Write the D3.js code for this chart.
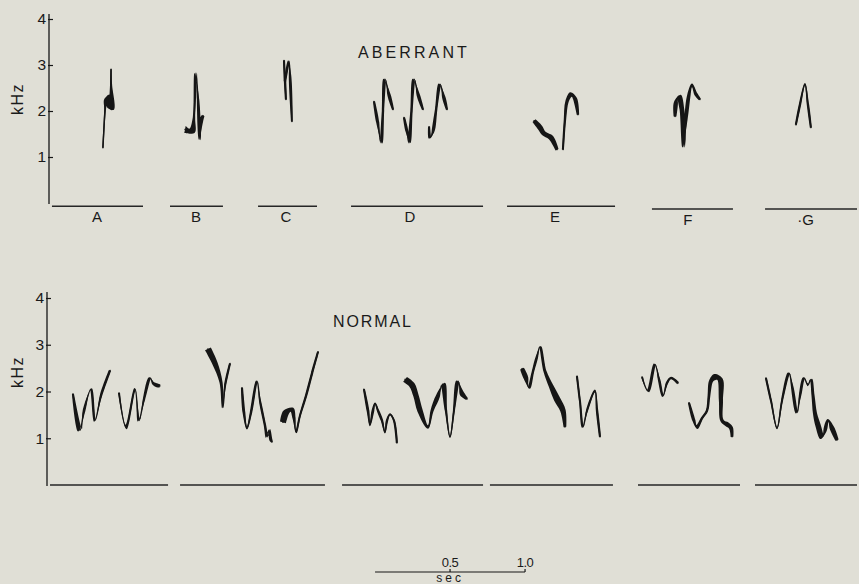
<!DOCTYPE html>
<html><head><meta charset="utf-8">
<script src="https://cdn.jsdelivr.net/npm/d3@7"></script>
<style>
html,body{margin:0;padding:0;background:#e0dfd6;}
svg{display:block;}
text{font-family:"Liberation Sans",Arial,Helvetica,sans-serif;fill:#1a1a1a;}
</style></head>
<body>
<script>
// ---------- DATA ----------
const freqTicks = [1, 2, 3, 4];
const panelTitles = ["ABERRANT", "NORMAL"];

// segment extents (sec) and labels
const aberrantSegments = [[0.013,0.62],[0.80,1.153],[1.387,1.78],[2.007,2.887],[3.047,3.767],[4.013,4.553],[4.767,5.38]];
const aberrantSegmentDrop = [0.07,0.07,0.07,0.07,0.07,0.13,0.13];
const aberrantLabels = ["A","B","C","D","E","F","·G"];
const aberrantLabelTime = [0.313,0.973,1.573,2.40,3.367,4.253,5.037];
const normalSegments = [[0.0,0.787],[0.867,1.833],[1.947,2.887],[2.933,3.753],[3.92,4.60],[4.70,5.38]];

// scale bar (sec)
const scaleBarStart = 2.167;
const scaleTicks = [0.5, 1.0];
const scaleTickLabels = ["0.5", "1.0"];

// traces: [time (sec), frequency (kHz), band thickness (kHz)]
const aberrantA = [[0.353,1.20,0],[0.367,2.03,0.01],[0.373,2.25,0.06],[0.393,2.34,0.1],[0.40,2.08,0.12],[0.413,2.03,0.08],[0.407,2.58,0.02],[0.407,2.91,0]];
const aberrantB = [[0.90,1.60,0.18],[0.947,1.57,0.16],[0.96,1.86,0.03],[0.973,2.82,0.05],[0.987,2.25,0.03],[1.0,1.38,0.02],[1.007,1.77,0.08],[1.02,1.90,0.05]];
const aberrantC1 = [[1.56,3.10,0.02],[1.567,2.64,0.03],[1.573,2.25,0.02]];
const aberrantC2 = [[1.567,2.64,0.03],[1.593,3.08,0.03],[1.60,2.78,0.03],[1.613,1.77,0.01]];
const aberrantD1 = [[2.16,2.21,0.02],[2.185,1.75,0.05],[2.207,1.31,0.05],[2.22,2.0,0.03],[2.233,2.69,0.05],[2.26,2.35,0.06],[2.287,2.03,0.02]];
const aberrantD2 = [[2.36,1.86,0.02],[2.38,1.55,0.04],[2.393,1.31,0.05],[2.41,2.0,0.03],[2.427,2.69,0.05],[2.455,2.35,0.06],[2.487,2.03,0.02]];
const aberrantD3 = [[2.527,1.66,0.02],[2.533,1.42,0.05],[2.553,1.55,0.04],[2.575,2.05,0.03],[2.60,2.58,0.05],[2.625,2.3,0.06],[2.647,2.03,0.02]];
const aberrantE1 = [[3.227,1.79,0.08],[3.267,1.64,0.12],[3.293,1.51,0.1],[3.34,1.42,0.12],[3.38,1.16,0.06]];
const aberrantE2 = [[3.42,1.16,0.02],[3.433,1.81,0.03],[3.447,2.21,0.06],[3.473,2.36,0.1],[3.50,2.27,0.08],[3.52,1.92,0.03]];
const aberrantF = [[4.167,1.88,0.04],[4.173,2.19,0.08],[4.193,2.32,0.1],[4.213,2.03,0.1],[4.227,1.22,0.06],[4.24,1.81,0.05],[4.26,2.36,0.06],[4.28,2.56,0.07],[4.307,2.36,0.06],[4.333,2.25,0.03]];
const aberrantG = [[4.973,1.70,0.02],[5.0,2.14,0.03],[5.033,2.58,0.04],[5.053,2.14,0.03],[5.073,1.64,0.02]];

const normal1a = [[0.153,1.95,0.02],[0.20,1.17,0.1],[0.227,1.59,0.04],[0.273,2.05,0.04],[0.30,1.38,0.05],[0.34,1.91,0.03],[0.40,2.45,0.03]];
const normal1b = [[0.46,1.97,0.02],[0.507,1.24,0.1],[0.567,2.05,0.04],[0.593,1.38,0.05],[0.627,1.84,0.03],[0.667,2.29,0.03],[0.687,2.18,0.04],[0.707,2.14,0.07],[0.733,2.12,0.06]];
const normal2a = [[1.053,2.91,0.15],[1.10,2.60,0.12],[1.14,2.20,0.05],[1.153,1.66,0.02],[1.167,2.12,0.02],[1.20,2.60,0.02]];
const normal2b = [[1.28,2.08,0.02],[1.293,1.55,0.04],[1.313,1.22,0.05],[1.34,1.55,0.03],[1.38,2.22,0.02],[1.40,1.80,0.02],[1.433,1.28,0.03],[1.447,1.03,0.05],[1.46,1.17,0.06],[1.473,0.96,0.05],[1.48,0.92,0.02]];
const normal2c = [[1.553,1.34,0.14],[1.573,1.55,0.15],[1.613,1.61,0.1],[1.627,1.43,0.05],[1.64,1.13,0.03],[1.667,1.49,0.02],[1.707,1.91,0.03],[1.747,2.39,0.03],[1.787,2.85,0.02]];
const normal3a = [[2.093,2.05,0.02],[2.12,1.59,0.04],[2.133,1.30,0.08],[2.153,1.59,0.04],[2.167,1.74,0.03],[2.187,1.59,0.03],[2.213,1.38,0.03],[2.233,1.13,0.04],[2.247,1.38,0.03],[2.267,1.51,0.03],[2.293,1.38,0.02],[2.313,0.90,0.02]];
const normal3b = [[2.367,2.26,0.14],[2.413,2.14,0.14],[2.44,1.91,0.12],[2.467,1.59,0.12],[2.52,1.24,0.06],[2.547,1.59,0.05],[2.587,1.91,0.08],[2.62,2.16,0.1],[2.64,1.59,0.03],[2.667,1.03,0.02],[2.693,1.59,0.02],[2.72,2.22,0.06],[2.747,1.95,0.1],[2.78,1.84,0.03]];
const normal4a = [[3.147,2.49,0.08],[3.173,2.29,0.1],[3.193,2.08,0.04],[3.22,2.43,0.03],[3.247,2.75,0.03],[3.267,2.96,0.02],[3.30,2.43,0.05],[3.34,2.12,0.1],[3.38,1.84,0.15],[3.42,1.59,0.12],[3.433,1.24,0.04]];
const normal4b = [[3.513,2.33,0.02],[3.533,1.80,0.02],[3.553,1.24,0.02],[3.58,1.59,0.02],[3.633,2.01,0.05],[3.647,1.59,0.03],[3.667,1.03,0.02]];
const normal5a = [[3.947,2.31,0.02],[3.987,2.01,0.05],[4.033,2.58,0.04],[4.06,2.26,0.03],[4.087,1.91,0.04],[4.113,2.18,0.03],[4.14,2.29,0.03],[4.187,2.18,0.04]];
const normal5b = [[4.26,1.76,0.02],[4.293,1.38,0.05],[4.313,1.24,0.08],[4.347,1.43,0.03],[4.38,1.59,0.03],[4.393,1.91,0.04],[4.407,2.22,0.08],[4.433,2.31,0.14],[4.467,2.26,0.12],[4.473,1.80,0.08],[4.48,1.38,0.06],[4.513,1.30,0.1],[4.54,1.22,0.08],[4.547,1.03,0.04]];
const normal6 = [[4.773,2.29,0.02],[4.807,1.80,0.02],[4.847,1.22,0.03],[4.88,1.80,0.02],[4.927,2.39,0.03],[4.947,2.12,0.03],[4.98,1.55,0.04],[5.0,1.91,0.03],[5.027,2.29,0.03],[5.053,2.14,0.04],[5.073,2.26,0.03],[5.087,1.91,0.05],[5.10,1.53,0.08],[5.12,1.28,0.12],[5.147,1.03,0.12],[5.167,1.17,0.06],[5.187,1.38,0.05],[5.213,1.22,0.1],[5.247,0.96,0.06]];

const aberrantTraces = [aberrantA, aberrantB, aberrantC1, aberrantC2, aberrantD1, aberrantD2, aberrantD3, aberrantE1, aberrantE2, aberrantF, aberrantG];
const normalTraces = [normal1a, normal1b, normal2a, normal2b, normal2c, normal3a, normal3b, normal4a, normal4b, normal5a, normal5b, normal6];

// ---------- DRAW ----------
const W = 859, H = 584;
const ink = "#161616";
const svg = d3.select("body").append("svg").attr("width", W).attr("height", H);
svg.append("rect").attr("width", W).attr("height", H).attr("fill", "#e0dfd6");

const x = d3.scaleLinear().domain([0, 5.4]).range([50, 860]);
const yTop = d3.scaleLinear().domain([0, 4]).range([203, 19]);
const yBot = d3.scaleLinear().domain([0, 4]).range([485, 298]);

function ribbon(points, y) {
  const k = Math.abs(y(1) - y(0));
  const P = points.map(d => [x(d[0]), y(d[1]), 0.7 + d[2] * k * 0.36]);
  const L = [], R = [];
  P.forEach((p, i) => {
    const a = P[Math.max(0, i - 1)], b = P[Math.min(P.length - 1, i + 1)];
    let dx = b[0] - a[0], dy = b[1] - a[1];
    const len = Math.hypot(dx, dy) || 1;
    const nx = -dy / len, ny = dx / len;
    L.push([p[0] + nx * p[2], p[1] + ny * p[2]]);
    R.push([p[0] - nx * p[2], p[1] - ny * p[2]]);
  });
  const lg = d3.line().curve(d3.curveCatmullRom.alpha(0.5));
  return lg(L) + "L" + lg(R.reverse()).slice(1) + "Z";
}

function drawPanel(cfg) {
  const g = svg.append("g");
  const y = cfg.y;
  g.append("line").attr("x1", cfg.axisX).attr("x2", cfg.axisX)
    .attr("y1", cfg.axisTop).attr("y2", y(0) + 1)
    .attr("stroke", ink).attr("stroke-width", 1.3);
  const ax = d3.axisLeft(y).tickValues(freqTicks).tickSize(-4).tickPadding(3).tickFormat(d3.format("d"));
  const ag = g.append("g").attr("transform", `translate(${cfg.axisX},0)`).call(ax);
  ag.select(".domain").remove();
  ag.selectAll(".tick line").attr("stroke", ink).attr("stroke-width", 1.2).attr("x1", -1);
  ag.selectAll(".tick text").attr("font-size", 15.5).attr("fill", ink).style("font-family", '"Liberation Sans",Arial,sans-serif');
  g.append("text").attr("transform", `translate(23,${cfg.khzY}) rotate(-90)`)
    .attr("text-anchor", "middle").attr("font-size", 16).attr("letter-spacing", 1.5).text("kHz");
  g.append("text").attr("x", cfg.titleX).attr("y", cfg.titleY).attr("font-size", 16)
    .attr("letter-spacing", cfg.titleSpacing).text(cfg.title);
  cfg.segments.forEach((s, i) => {
    const yy = y(0) + (cfg.drops ? cfg.drops[i] * Math.abs(y(1) - y(0)) : 0);
    g.append("line").attr("x1", x(s[0])).attr("x2", x(s[1])).attr("y1", yy).attr("y2", yy)
      .attr("stroke", "#262626").attr("stroke-width", 1.5);
    if (cfg.labels) {
      g.append("text").attr("x", x(cfg.labelTimes[i])).attr("y", yy + 16)
        .attr("text-anchor", "middle").attr("font-size", 15).text(cfg.labels[i]);
    }
  });
  const line = d3.line().x(d => x(d[0])).y(d => y(d[1])).curve(d3.curveCatmullRom.alpha(0.5));
  cfg.traces.forEach(tr => {
    g.append("path").attr("d", ribbon(tr, y)).attr("fill", ink);
    g.append("path").attr("d", line(tr)).attr("fill", "none").attr("stroke", ink).attr("stroke-width", 1.4)
      .attr("stroke-linejoin", "round").attr("stroke-linecap", "round");
  });
}

drawPanel({y: yTop, axisX: 49, axisTop: 14, khzY: 99, title: panelTitles[0], titleX: 358, titleY: 58, titleSpacing: 3.1,
  segments: aberrantSegments, drops: aberrantSegmentDrop, labels: aberrantLabels, labelTimes: aberrantLabelTime, traces: aberrantTraces});
drawPanel({y: yBot, axisX: 47, axisTop: 292, khzY: 372, title: panelTitles[1], titleX: 333, titleY: 327, titleSpacing: 1.9,
  segments: normalSegments, traces: normalTraces});

// scale bar
const sb = svg.append("g");
const sy = 572;
sb.append("line").attr("x1", x(scaleBarStart)).attr("x2", x(scaleBarStart + 1.0)).attr("y1", sy).attr("y2", sy)
  .attr("stroke", ink).attr("stroke-width", 1.2);
scaleTicks.forEach((t, i) => {
  const xx = x(scaleBarStart + t);
  sb.append("line").attr("x1", xx).attr("x2", xx).attr("y1", sy).attr("y2", sy - 3).attr("stroke", ink).attr("stroke-width", 1.2);
  sb.append("text").attr("x", xx).attr("y", 567).attr("text-anchor", "middle").attr("font-size", 13).attr("letter-spacing", -0.5).text(scaleTickLabels[i]);
});
sb.append("text").attr("x", x(scaleBarStart + 0.5)).attr("y", 581.5).attr("text-anchor", "middle").attr("font-size", 12).attr("letter-spacing", 3).text("sec");
</script>
</body></html>
